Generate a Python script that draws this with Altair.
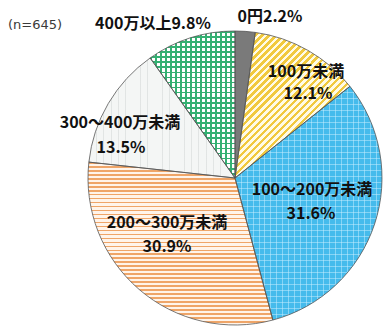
import altair as alt
import pandas as pd

# Annual income brackets and their shares (%), n=645
categories = ["0円", "100万未満", "100～200万未満", "200～300万未満", "300～400万未満", "400万以上"]
shares = [2.2, 12.1, 31.6, 30.9, 13.5, 9.8]
sample_note = "(n=645)"

# Label layout: category index, which part of the label, x centre, y centre
label_layout = [
    (0, "both", 270, 16.5),
    (1, "name", 306, 72),
    (1, "value", 308, 94),
    (2, "name", 312, 189.5),
    (2, "value", 311, 213.5),
    (3, "name", 167, 223),
    (3, "value", 167, 246.5),
    (4, "name", 120, 123),
    (4, "value", 121, 148),
    (5, "both", 153, 23.5),
]

W, H = 383, 329
CX, CY, R = 235, 178, 147
TOTAL = round(sum(shares), 1)

df = pd.DataFrame({"order": range(len(categories)), "category": categories, "share": shares})


def stripe_stops(n, c1, c2, frac):
    """Hard-edged alternating colour stops for a striped linear gradient."""
    stops = []
    for k in range(n):
        a, b, c = k / n, (k + frac) / n, (k + 1) / n
        stops += [
            {"offset": round(a, 5), "color": c1},
            {"offset": round(b, 5), "color": c1},
            {"offset": round(b, 5), "color": c2},
            {"offset": round(c, 5), "color": c2},
        ]
    return stops


def linear(stops, x2, y2):
    return {"gradient": "linear", "x1": 0, "y1": 0, "x2": x2, "y2": y2, "stops": stops}


CLEAR = "rgba(255,255,255,0)"

theta_scale = alt.Scale(domain=[0, TOTAL], range=[0, 6.283185307])

base = (
    alt.Chart(df)
    .transform_window(cum="sum(share)", sort=[alt.SortField("order")], frame=[None, 0])
    .transform_calculate(start="datum.cum - datum.share")
    .encode(theta=alt.Theta("start:Q", scale=theta_scale), theta2=alt.Theta2("cum:Q"))
)


def slice_layer(cat, fill):
    return base.transform_filter(alt.datum.category == cat).mark_arc(
        fill=fill, x=CX, y=CY, outerRadius=R, strokeWidth=0
    )


layers = [
    # 0円: solid grey
    slice_layer(categories[0], "#7a7a7a"),
    # 100万未満: yellow diagonal stripes
    slice_layer(categories[1], linear(stripe_stops(37, "#f1c93e", "#fffbe6", 0.5), 0.8706, 1.1022)),
    # 100～200万未満: blue with light grid texture
    slice_layer(categories[2], "#45bbec"),
    slice_layer(categories[2], linear(stripe_stops(39, "rgba(200,238,255,0.5)", CLEAR, 0.17), 0, 1)),
    slice_layer(categories[2], linear(stripe_stops(25, "rgba(200,238,255,0.5)", CLEAR, 0.17), 1, 0)),
    # 200～300万未満: orange horizontal stripes
    slice_layer(categories[3], linear(stripe_stops(41, "#efa568", "#fff4ea", 0.4), 0, 1)),
    # 300～400万未満: pale dotted fill
    slice_layer(categories[4], "#f4f6f5"),
    slice_layer(categories[4], linear(stripe_stops(20, "rgba(120,130,130,0.15)", CLEAR, 0.1), 1, 0)),
    # 400万以上: green check grid
    slice_layer(categories[5], linear(stripe_stops(29, "#34b072", "#ffffff", 0.33), 0, 1)),
    slice_layer(categories[5], linear(stripe_stops(17, "#34b072", CLEAR, 0.33), 1, 0)),
    # thin outlines round every slice
    base.mark_arc(
        x=CX, y=CY, outerRadius=R, fillOpacity=0, stroke="#555555", strokeWidth=0.8
    ),
]

# Label table built from the category/share arrays
rows = []
for idx, part, x, y in label_layout:
    name, val = categories[idx], f"{shares[idx]}%"
    text = {"both": name + val, "name": name, "value": val}[part]
    rows.append({"text": text, "px": x, "py": y})
labels = pd.DataFrame(rows)

label_layer = (
    alt.Chart(labels)
    .mark_text(
        font="Noto Sans CJK JP",
        fontWeight="bold",
        fontSize=16,
        color="#111111",
        align="center",
        baseline="middle",
    )
    .encode(
        x=alt.X("px:Q", scale=None, axis=None),
        y=alt.Y("py:Q", scale=None, axis=None),
        text="text:N",
    )
)

note_layer = (
    alt.Chart(pd.DataFrame({"text": [sample_note]}))
    .mark_text(
        font="DejaVu Sans",
        fontSize=13,
        color="#3a3a3a",
        align="left",
        baseline="middle",
    )
    .encode(x=alt.value(8), y=alt.value(25), text="text:N")
)

chart = (
    alt.layer(*layers, label_layer, note_layer)
    .properties(width=W, height=H, autosize="none", padding=0, background="white")
    .configure_view(strokeWidth=0)
)

chart.save("out.html", embed_options={"renderer": "svg", "actions": False})
